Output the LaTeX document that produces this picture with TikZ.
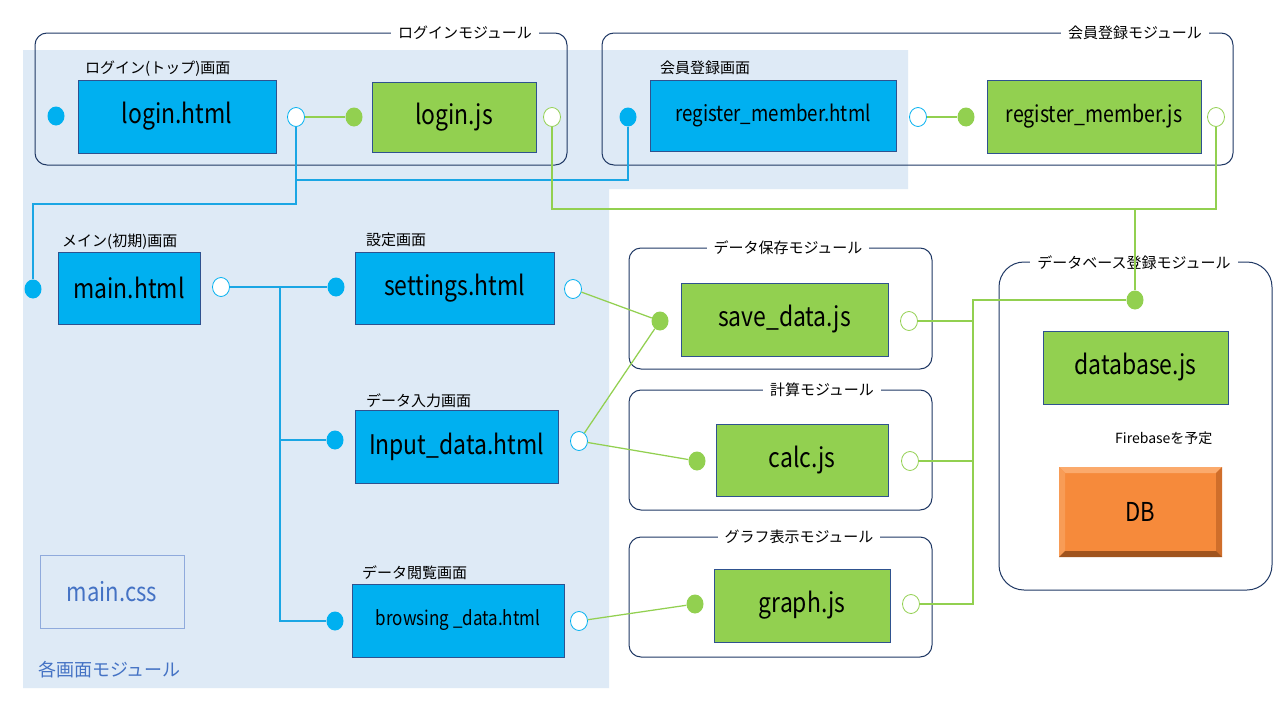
\documentclass[tikz,border=0pt]{standalone}
\usepackage{fontspec}
\setmainfont{Noto Sans CJK JP}
\newfontfamily\latf{Noto Sans CJK JP}[FakeStretch=0.85]
\usetikzlibrary{shapes.geometric}
\definecolor{bgblue}{HTML}{DEEAF6}
\definecolor{boxblue}{HTML}{00B0F0}
\definecolor{boxgreen}{HTML}{92D050}
\definecolor{navy}{HTML}{1F3864}
\definecolor{boxedge}{HTML}{2F528F}
\definecolor{lineblue}{HTML}{1AA6E4}
\definecolor{linegreen}{HTML}{92D050}
\definecolor{cssedge}{HTML}{8FAADC}
\definecolor{csstext}{HTML}{4472C4}
\definecolor{dborange}{HTML}{F68A3B}
\begin{document}
\begin{tikzpicture}[x=1pt,y=-1pt,
  module/.style={draw=navy, line width=1pt, rounded corners=12pt},
  modtitle/.style={fill=white, inner xsep=7pt, inner ysep=2pt, font=\fontsize{15}{17}\selectfont},
  scrlabel/.style={anchor=west, inner sep=0pt, font=\fontsize{15}{17}\selectfont},
  filebox/.style={draw=boxedge, line width=0.8pt, inner sep=0pt, text=black},
  bbox/.style={filebox, fill=boxblue},
  gbox/.style={filebox, fill=boxgreen},
  big/.style={font=\latf\fontsize{27}{30}\selectfont},
  dotbase/.style={ellipse, minimum width=17pt, minimum height=19pt, inner sep=0pt},
  bdot/.style={dotbase, fill=boxblue},
  gdot/.style={dotbase, fill=boxgreen},
  bring/.style={dotbase, draw=boxblue, fill=white, line width=0.8pt},
  gring/.style={dotbase, draw=boxgreen, fill=white, line width=0.8pt},
  bline/.style={draw=lineblue, line width=1.25pt},
  gline/.style={draw=linegreen, line width=1.25pt}]
\useasboundingbox (0,0) rectangle (1280,720);
\fill[white] (0,0) rectangle (1280,720);
% screen module region
\fill[bgblue] (23,50) -- (908,50) -- (908,189) -- (609,189) -- (609,688) -- (23,688) -- cycle;
\node[anchor=west, inner sep=0pt, text=csstext, font=\fontsize{18}{20}\selectfont] (scrmod) at (38,670) {各画面モジュール};

% module frames
\draw[module] (35,33) rectangle (567,165);
\node[modtitle] (tlogin) at (465,33) {ログインモジュール};
\draw[module] (602,33) rectangle (1233,165);
\node[modtitle] (treg) at (1135,33) {会員登録モジュール};
\draw[module] (629,248) rectangle (932,369);
\node[modtitle] (tsave) at (788,248) {データ保存モジュール};
\draw[module] (629,390) rectangle (932,510);
\node[modtitle] (tcalc) at (822,390) {計算モジュール};
\draw[module] (629,537) rectangle (932,657);
\node[modtitle] (tgraph) at (799,537) {グラフ表示モジュール};
\draw[module, rounded corners=25pt] (999,262) rectangle (1272,590);
\node[modtitle] (tdb) at (1134,263) {データベース登録モジュール};

% labels
\node[scrlabel] (llogin) at (85,69) {ログイン(トップ)画面};
\node[scrlabel] (lreg) at (660,68) {会員登録画面};
\node[scrlabel] (lmain) at (62,242) {メイン(初期)画面};
\node[scrlabel] (lset) at (366,240) {設定画面};
\node[scrlabel] (linp) at (366,401) {データ入力画面};
\node[scrlabel] (lbrw) at (362,573) {データ閲覧画面};
\node[scrlabel, font=\fontsize{14}{16}\selectfont] (lfire) at (1115,438) {Firebaseを予定};

% file boxes
\node[bbox, big, minimum width=198pt, minimum height=73pt] (loginhtml) at (177,116.5) {login.html};
\node[gbox, big, minimum width=164pt, minimum height=70pt] (loginjs) at (454,117) {login.js};
\node[bbox, font=\latf\fontsize{22}{26}\selectfont, minimum width=246pt, minimum height=71pt] (reghtml) at (773,115.5) {register\_member.html};
\node[gbox, font=\latf\fontsize{23}{26}\selectfont, minimum width=214pt, minimum height=73pt] (regjs) at (1094,116.5) {register\_member.js};
\node[bbox, big, minimum width=142pt, minimum height=72pt] (mainhtml) at (129,288) {main.html};
\node[bbox, big, minimum width=199pt, minimum height=72pt] (sethtml) at (454.5,288) {settings.html};
\node[bbox, big, minimum width=203pt, minimum height=73pt] (inphtml) at (456.5,446.5) {Input\_data.html};
\node[bbox, font=\latf\fontsize{20}{24}\selectfont, minimum width=212pt, minimum height=73pt] (brwhtml) at (458,620.5) {browsing \_data.html};
\node[draw=cssedge, line width=0.8pt, inner sep=0pt, text=csstext, font=\latf\fontsize{26}{30}\selectfont, minimum width=144pt, minimum height=73pt] (maincss) at (112,591.5) {main.css};
\node[gbox, big, minimum width=207pt, minimum height=73pt] (savejs) at (784.5,319.5) {save\_data.js};
\node[gbox, big, minimum width=172pt, minimum height=72pt] (calcjs) at (802,460) {calc.js};
\node[gbox, big, minimum width=176pt, minimum height=73pt] (graphjs) at (802,605.5) {graph.js};
\node[gbox, big, minimum width=185pt, minimum height=73pt] (dbjs) at (1135.5,367.5) {database.js};

% DB bevel box
\fill[dborange] (1059,467) rectangle (1222,557);
\fill[color={rgb,255:red,251;green,170;blue,108}] (1059,467) -- (1222,467) -- (1216,473) -- (1065,473) -- cycle;
\fill[color={rgb,255:red,248;green,156;blue,86}] (1059,467) -- (1065,473) -- (1065,551) -- (1059,557) -- cycle;
\fill[color={rgb,255:red,208;green,110;blue,42}] (1222,467) -- (1222,557) -- (1216,551) -- (1216,473) -- cycle;
\fill[color={rgb,255:red,160;green,84;blue,30}] (1059,557) -- (1222,557) -- (1216,551) -- (1065,551) -- cycle;
\node[inner sep=0pt, text=black, font=\latf\fontsize{26}{30}\selectfont, minimum width=163pt, minimum height=90pt] (dbbox) at (1140.5,512) {DB};

% ports
\node[bdot] (lhin) at (56,116) {};
\node[bring] (lhout) at (296,117) {};
\node[gdot] (ljsin) at (354,117) {};
\node[gring] (ljsout) at (552,117) {};
\node[bdot] (rhin) at (628,117) {};
\node[bring] (rhout) at (918,117) {};
\node[gdot] (rjsin) at (966,117) {};
\node[gring] (rjsout) at (1216,117) {};
\node[bdot] (mhin) at (33,289) {};
\node[bring] (mhout) at (221,287) {};
\node[bdot] (shin) at (336,287) {};
\node[bring] (shout) at (573,289) {};
\node[bdot] (ihin) at (335,440) {};
\node[bring] (ihout) at (579,441) {};
\node[bdot] (bhin) at (335,621) {};
\node[bring] (bhout) at (579,621) {};
\node[gdot] (sdin) at (660,321) {};
\node[gring] (sdout) at (909,321) {};
\node[gdot] (cin) at (697,461) {};
\node[gring] (cout) at (910,461) {};
\node[gdot] (gin) at (695,604) {};
\node[gring] (gout) at (911,604) {};
\node[gdot] (dbin) at (1135,300) {};

% helper coordinates
\coordinate (yb1) at (0,204);
\coordinate (yb2) at (0,180);
\coordinate (yg1) at (0,209);
\coordinate (xb) at (280,0);
\coordinate (xg) at (973,0);

% connectors
\draw[gline] (lhout) -- (ljsin);
\draw[gline] (rhout) -- (rjsin);
\draw[bline] (lhout.south) -- (lhout.south |- yb1) -| (mhin.north);
\draw[bline] (rhin.south) |- (lhout.south |- yb2);
\draw[bline] (mhout) -- (shin);
\draw[bline] (xb |- mhout) |- (bhin);
\draw[bline] (xb |- ihin) -- (ihin);
\draw[gline] (ljsout.south) |- (dbin.north |- yg1);
\draw[gline] (rjsout.south) |- (dbin.north |- yg1) -- (dbin.north);
\draw[gline] (dbin) -| (xg |- gout) -- (gout);
\draw[gline] (sdout) -- (xg |- sdout);
\draw[gline] (cout) -- (xg |- cout);
\draw[gline] (shout) -- (sdin);
\draw[gline] (ihout) -- (sdin);
\draw[gline] (ihout) -- (cin);
\draw[gline] (bhout) -- (gin);
\end{tikzpicture}
\end{document}
